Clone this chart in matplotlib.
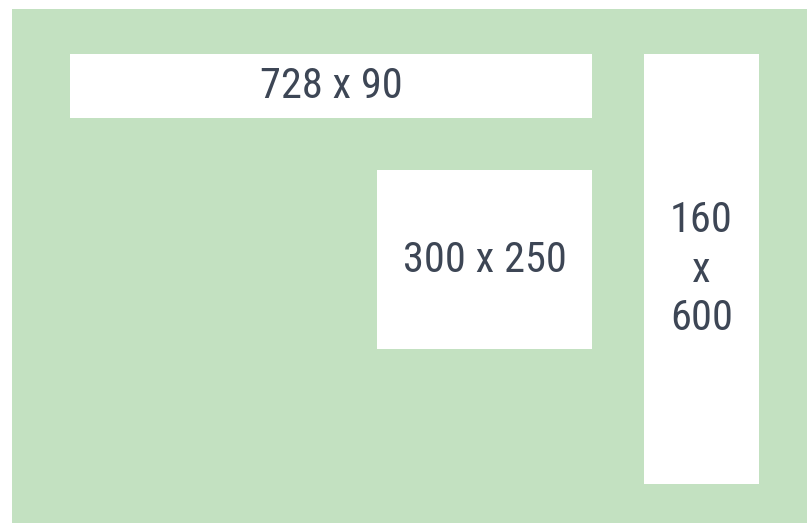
import matplotlib
matplotlib.use("Agg")
import matplotlib.pyplot as plt
from matplotlib.patches import Rectangle

# Data
labels = ["728 x 90", "300 x 250", "160\nx\n600"]

# Layout (pixel coordinates: left, top, right, bottom)
boxes = [(70, 54, 592, 118), (377, 170, 592, 349), (644, 54, 759, 484)]
background = (12, 9, 807, 523)

W, H = 807, 523
fig = plt.figure(figsize=(W / 100, H / 100), dpi=100)
ax = fig.add_axes([0, 0, 1, 1])
ax.set_xlim(0, W)
ax.set_ylim(H, 0)
ax.axis("off")

l, t, r, b = background
ax.add_patch(Rectangle((l, t), r - l, b - t, facecolor="#c3e1c1", edgecolor="none"))
for (l, t, r, b), lab in zip(boxes, labels):
    ax.add_patch(Rectangle((l, t), r - l, b - t, facecolor="white", edgecolor="none"))
    ax.text((l + r) / 2, (t + b) / 2 + 1, lab, ha="center", va="center",
            fontsize=30.5, color="#3d4655", family="Roboto Condensed",
            weight="normal", linespacing=1.25)

fig.savefig("out.png", dpi=100)
